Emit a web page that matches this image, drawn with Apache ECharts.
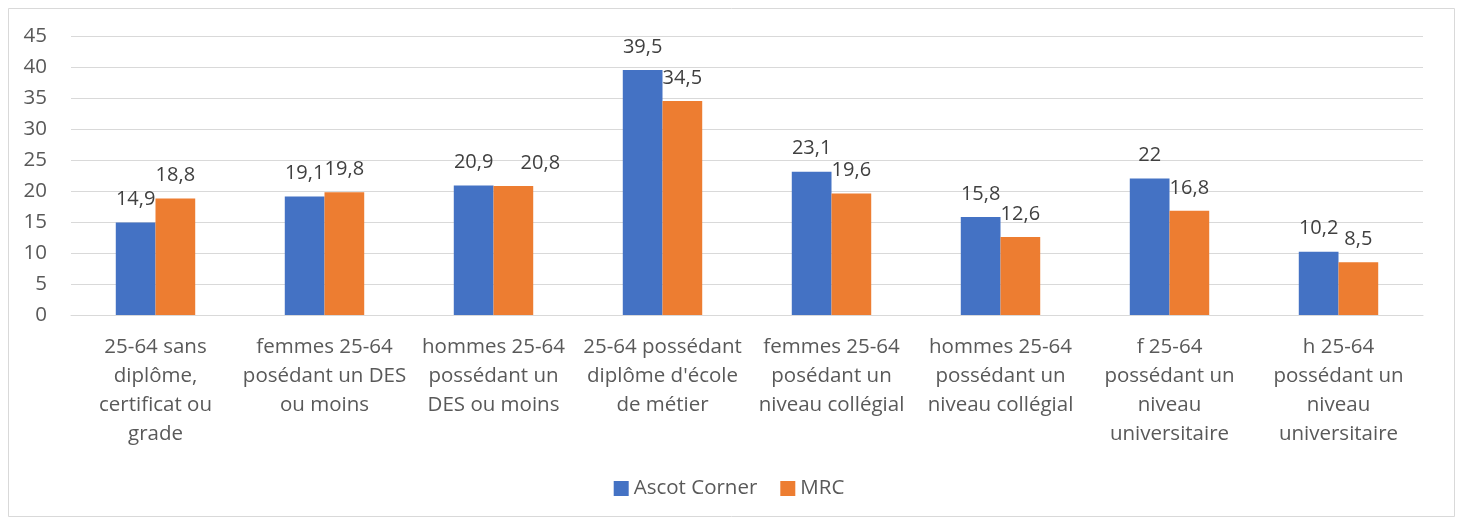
<!DOCTYPE html>
<html>
<head>
<meta charset="utf-8">
<script src="https://cdn.jsdelivr.net/npm/echarts@6/dist/echarts.min.js"></script>
<style>
html,body{margin:0;padding:0;background:#fff;}
#c{width:1458px;height:520px;}
</style>
</head>
<body>
<div id="c"></div>
<script>
const categories = [
  "25-64 sans\ndiplôme,\ncertificat ou\ngrade",
  "femmes 25-64\nposédant un DES\nou moins",
  "hommes 25-64\npossédant un\nDES ou moins",
  "25-64 possédant\ndiplôme d'école\nde métier",
  "femmes 25-64\nposédant un\nniveau collégial",
  "hommes 25-64\npossédant un\nniveau collégial",
  "f 25-64\npossédant un\nniveau\nuniversitaire",
  "h 25-64\npossédant un\nniveau\nuniversitaire"
];
const ascotCorner = [14.9, 19.1, 20.9, 39.5, 23.1, 15.8, 22, 10.2];
const mrc = [18.8, 19.8, 20.8, 34.5, 19.6, 12.6, 16.8, 8.5];
const yTicks = [0, 5, 10, 15, 20, 25, 30, 35, 40, 45];

const FONT = "Open Sans";
const FS = 20.5;
const fmt = p => String(p.value).replace('.', ',');
const chart = echarts.init(document.getElementById('c'), null, {renderer: 'canvas'});
chart.setOption({
  animation: false,
  backgroundColor: '#fff',
  textStyle: {fontFamily: FONT},
  graphic: [{
    type: 'rect', left: 6, top: 6, shape: {width: 1446, height: 508},
    style: {fill: 'none', stroke: '#d9d9d9', lineWidth: 1}, silent: true
  }],
  grid: {left: 71, right: 35, top: 36, bottom: 205, containLabel: false},
  legend: {
    data: ['Ascot Corner', 'MRC'],
    bottom: 16, left: 'center',
    itemWidth: 15, itemHeight: 15, itemGap: 23,
    icon: 'rect',
    textStyle: {fontSize: FS, color: '#595959', fontFamily: FONT}
  },
  xAxis: {
    type: 'category',
    data: categories,
    axisLine: {show: true, lineStyle: {color: '#d9d9d9', width: 1}},
    axisTick: {show: false},
    axisLabel: {interval: 0, fontSize: FS, color: '#595959', lineHeight: 29, margin: 18, fontFamily: FONT}
  },
  yAxis: {
    type: 'value', min: yTicks[0], max: yTicks[yTicks.length - 1], interval: 5,
    axisLine: {show: false}, axisTick: {show: false},
    axisLabel: {fontSize: FS, color: '#595959', margin: 24, fontFamily: FONT},
    splitLine: {lineStyle: {color: '#d9d9d9', width: 1}}
  },
  series: [
    {
      name: 'Ascot Corner', type: 'bar', data: ascotCorner,
      itemStyle: {color: '#4472c4'}, barGap: '0%', barCategoryGap: '53%',
      label: {show: true, position: 'top', formatter: fmt, fontSize: 20, color: '#404040', distance: 13, fontFamily: FONT}
    },
    {
      name: 'MRC', type: 'bar', data: mrc,
      itemStyle: {color: '#ed7d31'}, barGap: '0%', barCategoryGap: '53%',
      // nudge a label sideways when it would collide with its neighbour at the same height
      labelLayout: function (params) {
        const i = params.dataIndex;
        if (Math.abs(ascotCorner[i] - mrc[i]) < 0.5) {
          return {dx: 27};
        }
        return {};
      },
      label: {show: true, position: 'top', formatter: fmt, fontSize: 20, color: '#404040', distance: 13, fontFamily: FONT}
    }
  ]
});
</script>
</body>
</html>
